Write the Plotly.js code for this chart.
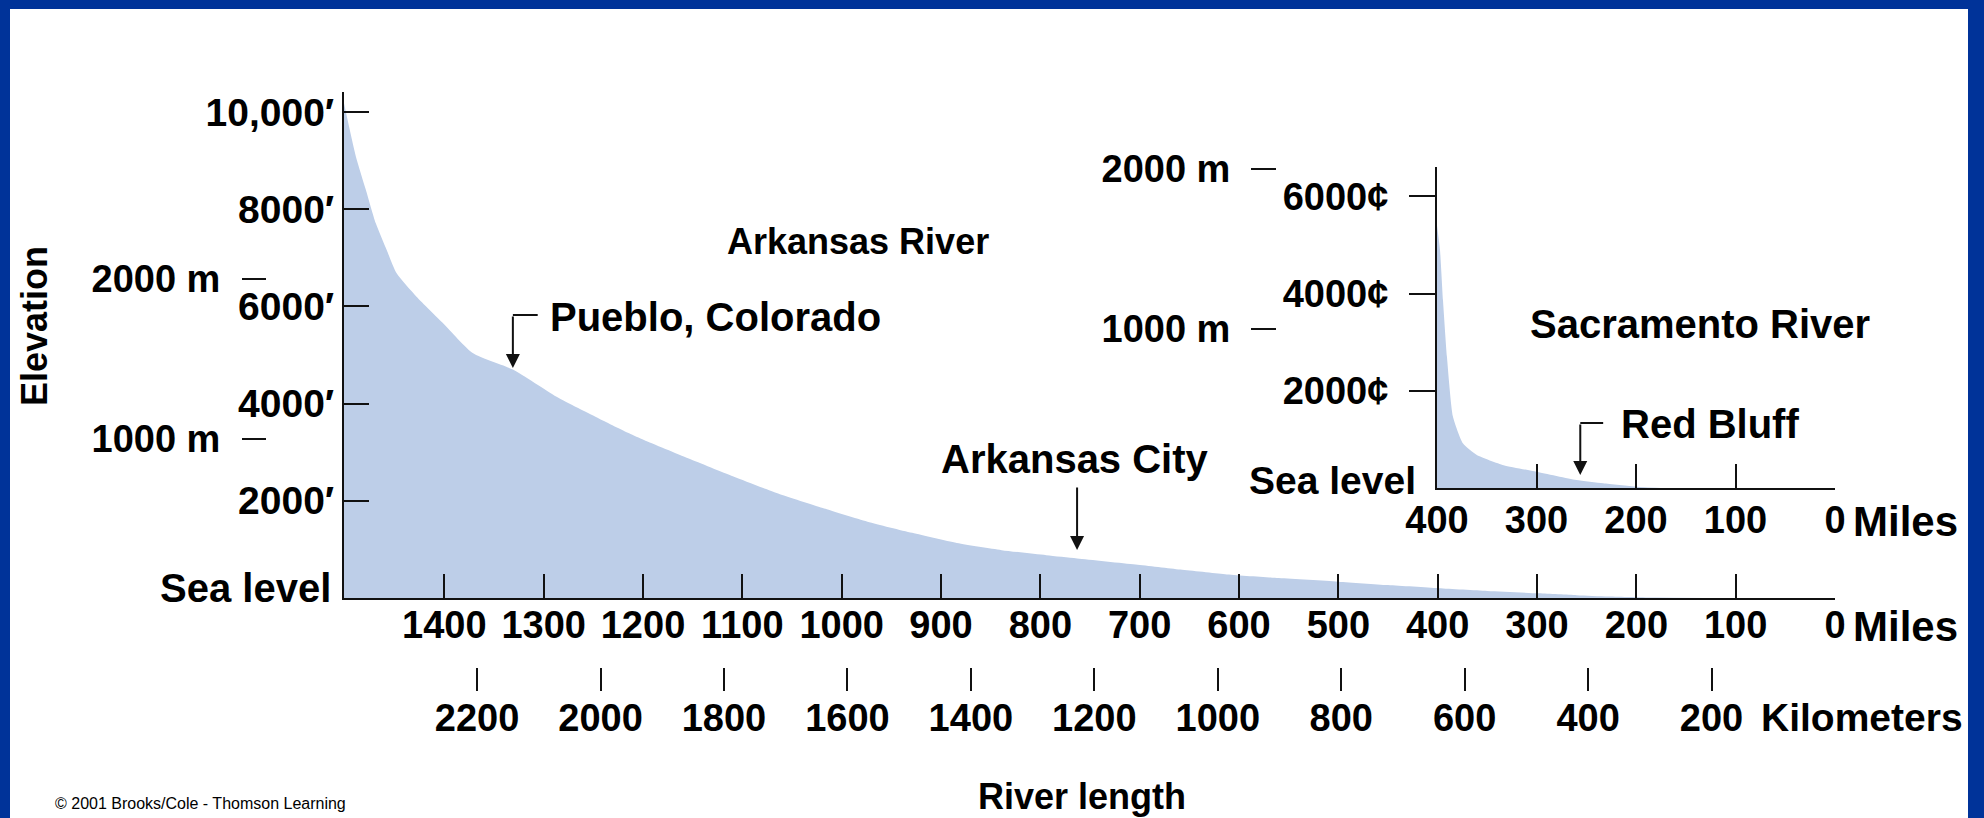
<!DOCTYPE html>
<html>
<head>
<meta charset="utf-8">
<script src="https://cdn.plot.ly/plotly-3.0.1.min.js"></script>
<style>
  html, body { margin: 0; padding: 0; background: #003399; }
  #chart { width: 1984px; height: 818px; }
</style>
</head>
<body>
<div id="chart"></div>
<script>
// ---------------- data ----------------
// Arkansas River profile: distance from mouth (miles) and elevation (feet)
const arkMiles  = [1501, 1489, 1479, 1469, 1458, 1448, 1428, 1401, 1371, 1331, 1287, 1244, 1214, 1199, 1154, 1109, 1064, 1019, 974, 929, 884, 839, 794, 763, 704, 659, 614, 560, 500, 450, 399, 350, 298, 260, 228, 180, 130];
const arkElevFt = [10180, 9080, 8400, 7710, 7160, 6680, 6200, 5650, 5035, 4700, 4140, 3690, 3390, 3250, 2870, 2500, 2150, 1850, 1570, 1340, 1130, 985, 880, 815, 690, 585, 490, 410, 336, 265, 200, 145, 96, 58, 30, 8, 0];

// Sacramento River profile
const sacMiles  = [400, 397, 394, 390, 384, 374, 360, 333, 300, 260, 233, 200, 175];
const sacElevFt = [5400, 4900, 3870, 2700, 1470, 920, 680, 470, 336, 165, 96, 27, 0];

// tick values / labels
const milesTicks  = [1400, 1300, 1200, 1100, 1000, 900, 800, 700, 600, 500, 400, 300, 200, 100, 0];
const milesLabels = ['1400', '1300', '1200', '1100', '1000', '900', '800', '700', '600', '500', '400', '300', '200', '100', '0'];
const kmTicks  = [2200, 2000, 1800, 1600, 1400, 1200, 1000, 800, 600, 400, 200];
const kmLabels = ['2200', '2000', '1800', '1600', '1400', '1200', '1000', '800', '600', '400', '200'];
const feetTicks  = [2000, 4000, 6000, 8000, 10000];
const feetLabels = ['2000\u2032', '4000\u2032', '6000\u2032', '8000\u2032', '10,000\u2032'];
const meterTicks  = [1000, 2000];
const meterLabels = ['1000 m', '2000 m'];
const sacFeetTicks  = [2000, 4000, 6000];
const sacFeetLabels = ['2000\u00a2', '4000\u00a2', '6000\u00a2'];
const sacMilesTicks  = [400, 300, 200, 100, 0];
const sacMilesLabels = ['400', '300', '200', '100', '0'];

// annotated places [miles, feet]
const pueblo = [1331, 4733];
const arkCity = [763, 988];
const redBluff = [256, 267];

// ---------------- layout helpers ----------------
const W = 1984, H = 818;
const FT_PER_M = 3.28084;
const KM_PER_MI = 1.609344;
const FONT = 'Liberation Sans, Arial, Helvetica, sans-serif';
const INK = '#111111';
const FILL = '#bdcee8';
const px = x => x / W;
const py = y => (H - y) / H;
const bold = s => ({ family: FONT, size: s, color: '#000', weight: 'bold' });

const mainTop = 10411, sacTop = 6600, mainMiles = 1501;

const baseAxis = {
  showgrid: false, zeroline: false, fixedrange: true,
  linecolor: INK, linewidth: 2, tickcolor: INK, tickwidth: 2,
  tickmode: 'array', tickfont: bold(38)
};

const layout = {
  width: W, height: H,
  margin: { l: 0, r: 0, t: 0, b: 0 },
  paper_bgcolor: '#003399',
  plot_bgcolor: 'rgba(0,0,0,0)',
  showlegend: false,
  hovermode: false,
  xaxis: Object.assign({}, baseAxis, {
    domain: [px(344), px(1835)], range: [mainMiles, 0], anchor: 'y',
    showline: true, ticks: 'inside', ticklen: 24,
    tickvals: milesTicks, ticktext: milesLabels, ticklabelstandoff: -8
  }),
  yaxis: Object.assign({}, baseAxis, {
    domain: [py(598), py(92)], range: [0, mainTop], anchor: 'x',
    showline: true, ticks: 'inside', ticklen: 25, tickfont: bold(39),
    tickvals: feetTicks, ticktext: feetLabels, ticklabelstandoff: 0
  }),
  xaxis3: Object.assign({}, baseAxis, {
    overlaying: 'x', anchor: 'free', position: py(667), side: 'bottom',
    range: [mainMiles * KM_PER_MI, 0], showline: false, ticks: 'outside', ticklen: 23,
    tickvals: kmTicks, ticktext: kmLabels, ticklabelstandoff: -6
  }),
  yaxis3: Object.assign({}, baseAxis, {
    overlaying: 'y', anchor: 'free', position: px(266), side: 'left',
    range: [0, mainTop / FT_PER_M], showline: false, ticks: 'outside', ticklen: 24,
    tickvals: meterTicks, ticktext: meterLabels, ticklabelstandoff: 14
  }),
  xaxis2: Object.assign({}, baseAxis, {
    domain: [px(1437), px(1835)], range: [400, 0], anchor: 'y2',
    showline: true, ticks: 'inside', ticklen: 24,
    tickvals: sacMilesTicks, ticktext: sacMilesLabels, ticklabelstandoff: -3
  }),
  yaxis2: Object.assign({}, baseAxis, {
    domain: [py(488), py(488 - sacTop * 0.0486)], range: [0, sacTop], anchor: 'x2',
    showline: true, ticks: 'outside', ticklen: 26,
    tickvals: sacFeetTicks, ticktext: sacFeetLabels, ticklabelstandoff: 13
  }),
  yaxis4: Object.assign({}, baseAxis, {
    overlaying: 'y2', anchor: 'free', position: px(1276), side: 'left',
    range: [0, sacTop / FT_PER_M], showline: false, ticks: 'outside', ticklen: 25,
    tickvals: meterTicks, ticktext: meterLabels, ticklabelstandoff: 13
  }),
  shapes: [
    { type: 'rect', xref: 'paper', yref: 'paper', x0: px(10), x1: px(1968), y0: 0, y1: py(9),
      fillcolor: '#ffffff', line: { width: 0 }, layer: 'below' },
    { type: 'line', xref: 'x', yref: 'y', x0: pueblo[0], x1: pueblo[0] - 25, y0: 5823, y1: 5823,
      line: { color: INK, width: 2 } },
    { type: 'line', xref: 'x2', yref: 'y2', x0: redBluff[0], x1: redBluff[0] - 23, y0: 1337, y1: 1337,
      line: { color: INK, width: 2 } }
  ],
  annotations: []
};

function arrow(pt, xref, yref, ay) {
  return { x: pt[0], y: pt[1], xref, yref, ax: 0, ay, axref: 'pixel', ayref: 'pixel',
           text: '', showarrow: true, arrowhead: 2, arrowsize: 1.4, arrowwidth: 2,
           arrowcolor: INK, standoff: 0 };
}
function label(text, x, y, xanchor, font, extra) {
  return Object.assign({ text, x: px(x), y: py(y), xref: 'paper', yref: 'paper',
           xanchor, yanchor: 'middle', showarrow: false, font }, extra || {});
}

layout.annotations.push(
  arrow(pueblo, 'x', 'y', -53),
  arrow(arkCity, 'x', 'y', -64),
  arrow(redBluff, 'x2', 'y2', -52),
  label('Arkansas River', 858, 241, 'center', bold(36)),
  label('Pueblo, Colorado', 548, 317, 'left', bold(40)),
  label('Arkansas City', 1075, 459, 'center', bold(40)),
  label('Sacramento River', 1700, 324, 'center', bold(40)),
  label('Red Bluff', 1619, 424, 'left', bold(40)),
  label('Sea level', 333, 588, 'right', bold(40)),
  label('Sea level', 1418, 480, 'right', bold(39)),
  label('Miles', 1851, 626, 'left', bold(42)),
  label('Miles', 1851, 521, 'left', bold(42)),
  label('Kilometers', 1759, 717, 'left', bold(39)),
  label('River length', 1082, 796, 'center', bold(36)),
  label('Elevation', 34, 326, 'center', bold(36), { textangle: -90 }),
  label('\u00a9 2001 Brooks/Cole - Thomson Learning', 53, 803, 'left',
        { family: FONT, size: 16, color: '#000' })
);

const traces = [
  { type: 'scatter', mode: 'lines', x: arkMiles, y: arkElevFt, xaxis: 'x', yaxis: 'y',
    fill: 'tozeroy', fillcolor: FILL, line: { width: 0, color: FILL, shape: 'spline', smoothing: 0.6 },
    hoverinfo: 'skip' },
  { type: 'scatter', mode: 'lines', x: sacMiles, y: sacElevFt, xaxis: 'x2', yaxis: 'y2',
    fill: 'tozeroy', fillcolor: FILL, line: { width: 0, color: FILL, shape: 'spline', smoothing: 0.5 },
    hoverinfo: 'skip' },
  { type: 'scatter', mode: 'lines', x: [], y: [], xaxis: 'x3', yaxis: 'y', hoverinfo: 'skip' },
  { type: 'scatter', mode: 'lines', x: [], y: [], xaxis: 'x', yaxis: 'y3', hoverinfo: 'skip' },
  { type: 'scatter', mode: 'lines', x: [], y: [], xaxis: 'x2', yaxis: 'y4', hoverinfo: 'skip' }
];

Plotly.newPlot('chart', traces, layout, { displayModeBar: false, staticPlot: true });
</script>
</body>
</html>
